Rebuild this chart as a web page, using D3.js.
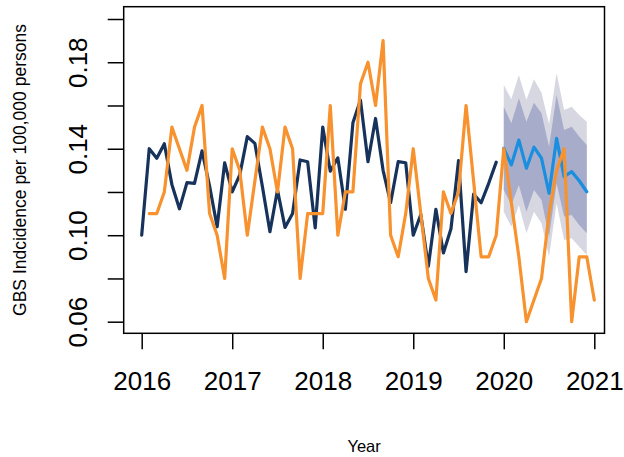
<!DOCTYPE html>
<html>
<head>
<meta charset="utf-8">
<script src="https://cdn.jsdelivr.net/npm/d3@7"></script>
<style>
  html, body { margin: 0; padding: 0; background: #fff; }
  svg text { font-family: "Liberation Sans", Arial, sans-serif; fill: #000; }
</style>
</head>
<body>
<svg id="chart" width="624" height="457"></svg>
<script>
// ---- data ----
const fittedStart = 2016;            // Jan 2016
const fittedValues = [
  0.100, 0.140, 0.1356, 0.1423, 0.1235, 0.1122, 0.1243, 0.124, 0.139, 0.1227, 0.1039, 0.1335,
  0.120, 0.1279, 0.1456, 0.1425, 0.1225, 0.1016, 0.1209, 0.1036, 0.110, 0.1348, 0.134, 0.1034,
  0.150, 0.1296, 0.1358, 0.112, 0.152, 0.1625, 0.134, 0.154, 0.130, 0.115, 0.134, 0.1335,
  0.100, 0.1096, 0.0856, 0.112, 0.0918, 0.1030, 0.1345, 0.0832, 0.119, 0.115, 0.124, 0.1338
];
const observedStart = 2016 + 1/12;   // Feb 2016
const observedValues = [
  0.11, 0.11, 0.12, 0.15, 0.14, 0.13, 0.15, 0.16, 0.11, 0.10, 0.08,
  0.14, 0.13, 0.10, 0.125, 0.15, 0.14, 0.12, 0.15, 0.14, 0.08, 0.11, 0.11,
  0.11, 0.16, 0.10, 0.12, 0.12, 0.17, 0.18, 0.16, 0.19, 0.10, 0.09, 0.11,
  0.14, 0.11, 0.08, 0.07, 0.12, 0.11, 0.12, 0.16, 0.125, 0.09, 0.09, 0.10,
  0.14, 0.115, 0.09, 0.06, 0.07, 0.08, 0.11, 0.13, 0.14, 0.06, 0.09, 0.09,
  0.07
];
const forecastStart = 2020;          // Jan 2020
const forecastMean = [0.1402, 0.1325, 0.1440, 0.1310, 0.1407, 0.1356, 0.1194, 0.1448, 0.1271, 0.1294, 0.1252, 0.1201];
const hi95 = [0.1695, 0.1629, 0.1741, 0.1625, 0.1721, 0.1659, 0.1514, 0.1749, 0.1579, 0.1594, 0.1556, 0.1525];
const hi80 = [0.1594, 0.1518, 0.1633, 0.1525, 0.1613, 0.1564, 0.1409, 0.1649, 0.1487, 0.1502, 0.1456, 0.1417];
const lo80 = [0.1209, 0.1140, 0.1232, 0.1109, 0.1209, 0.1163, 0.0993, 0.1240, 0.1086, 0.1094, 0.1047, 0.1009];
const lo95 = [0.1109, 0.1039, 0.1140, 0.1009, 0.1109, 0.1055, 0.0901, 0.1148, 0.0978, 0.0986, 0.0947, 0.0909];

const xTicks = [2016, 2017, 2018, 2019, 2020, 2021];
const yTicks = [0.06, 0.08, 0.10, 0.12, 0.14, 0.16, 0.18, 0.20];
const yTickLabels = ["0.06", "", "0.10", "", "0.14", "", "0.18", ""];
const xTitle = "Year";
const yTitle = "GBS Indcidence per 100,000 persons";

// ---- layout ----
const frame = { left: 123.7, right: 604.5, top: 6.7, bottom: 333.3 };
const x = d3.scaleLinear().domain([2016, 2021]).range([141.7, 594.3]);
const y = d3.scaleLinear().domain([0.06, 0.20]).range([321.7, 19]);

const svg = d3.select("#chart");

function series(start, vals) { return vals.map((v, i) => ({ t: start + i / 12, v })); }

const fitted = series(fittedStart, fittedValues);
const observed = series(observedStart, observedValues);
const fc = forecastMean.map((m, i) => ({
  t: forecastStart + i / 12, m, h95: hi95[i], l95: lo95[i], h80: hi80[i], l80: lo80[i]
}));

svg.append("defs").append("clipPath").attr("id", "plotclip")
  .append("rect").attr("x", frame.left).attr("y", frame.top)
  .attr("width", frame.right - frame.left).attr("height", frame.bottom - frame.top);

const g = svg.append("g").attr("clip-path", "url(#plotclip)");

// bands
g.append("path").datum(fc)
  .attr("d", d3.area().x(d => x(d.t)).y0(d => y(d.l95)).y1(d => y(d.h95)))
  .attr("fill", "#d6d7e1");
g.append("path").datum(fc)
  .attr("d", d3.area().x(d => x(d.t)).y0(d => y(d.l80)).y1(d => y(d.h80)))
  .attr("fill", "#a7acca");

const line = d3.line().x(d => x(d.t)).y(d => y(d.v));

g.append("path").datum(fitted).attr("d", line)
  .attr("fill", "none").attr("stroke", "#17335b").attr("stroke-width", 3.2)
  .attr("stroke-linejoin", "round").attr("stroke-linecap", "round");

g.append("path").datum(fc)
  .attr("d", d3.line().x(d => x(d.t)).y(d => y(d.m)))
  .attr("fill", "none").attr("stroke", "#1a8fe0").attr("stroke-width", 3.2)
  .attr("stroke-linejoin", "round").attr("stroke-linecap", "round");

g.append("path").datum(observed).attr("d", line)
  .attr("fill", "none").attr("stroke", "#f7922f").attr("stroke-width", 3.2)
  .attr("stroke-linejoin", "round").attr("stroke-linecap", "round");

// frame
svg.append("rect")
  .attr("x", frame.left).attr("y", frame.top)
  .attr("width", frame.right - frame.left).attr("height", frame.bottom - frame.top)
  .attr("fill", "none").attr("stroke", "#000").attr("stroke-width", 1.5);

// x axis
const xAxis = d3.axisBottom(x).tickValues(xTicks).tickSize(16).tickPadding(0).tickFormat(d3.format("d"));
const xg = svg.append("g").attr("transform", `translate(0,${frame.bottom})`).call(xAxis);
xg.select(".domain").remove();
xg.selectAll(".tick line").attr("stroke", "#000").attr("stroke-width", 1.5);
xg.selectAll(".tick text").attr("font-size", 26).attr("y", 0).attr("dy", 0)
  .attr("transform", "translate(0,57)")
  .style("font-family", "'Liberation Sans', Arial, sans-serif").attr("fill", "#000");

// y axis
const yAxis = d3.axisLeft(y).tickValues(yTicks).tickSize(16).tickPadding(0)
  .tickFormat((d, i) => yTickLabels[i]);
const yg = svg.append("g").attr("transform", `translate(${frame.left},0)`).call(yAxis);
yg.select(".domain").remove();
yg.selectAll(".tick line").attr("stroke", "#000").attr("stroke-width", 1.5);
yg.selectAll(".tick text").attr("font-size", 26).attr("x", 0).attr("dy", 0)
  .attr("text-anchor", "middle")
  .attr("transform", "translate(-36.4,0) rotate(-90)")
  .style("font-family", "'Liberation Sans', Arial, sans-serif").attr("fill", "#000");

// titles
svg.append("text").attr("x", (frame.left + frame.right) / 2).attr("y", 452)
  .attr("text-anchor", "middle").attr("font-size", 16.5).text(xTitle);
svg.append("text").attr("transform", `translate(25.5,${(frame.top + frame.bottom) / 2}) rotate(-90)`)
  .attr("text-anchor", "middle").attr("font-size", 17.5).text(yTitle);
</script>
</body>
</html>
